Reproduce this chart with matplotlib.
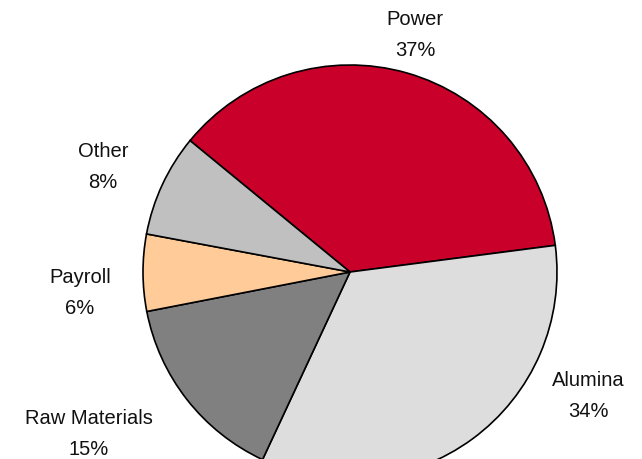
import matplotlib
matplotlib.use("Agg")
import matplotlib.pyplot as plt

# cost breakdown, percent
categories = ["Power", "Alumina", "Raw Materials", "Payroll", "Other"]
shares = [37, 34, 15, 6, 8]
colors = ["#C8002A", "#DDDDDD", "#808080", "#FFCC99", "#C0C0C0"]

# label anchor points (pixels, y measured up from the bottom)
label_xy = [(415, 425), (588, 64), (89, 26), (80, 167), (103, 293)]

plt.rcParams["font.family"] = ["Liberation Sans", "DejaVu Sans"]

fig = plt.figure(figsize=(6.42, 4.6), dpi=100)
ax = fig.add_axes([0, 0, 1, 1])

ax.pie(shares, colors=colors, startangle=140.6, counterclock=False,
       center=(350, 187), radius=207, frame=True,
       wedgeprops=dict(edgecolor="black", linewidth=1.2))
ax.set_xlim(0, 642)
ax.set_ylim(0, 460)
ax.axis("off")

for name, pct, (x, y) in zip(categories, shares, label_xy):
    ax.text(x, y, f"{name}\n{pct}%", ha="center", va="center",
            fontsize=14.5, linespacing=1.8, color="#111111")

fig.savefig("out.png", dpi=100)
